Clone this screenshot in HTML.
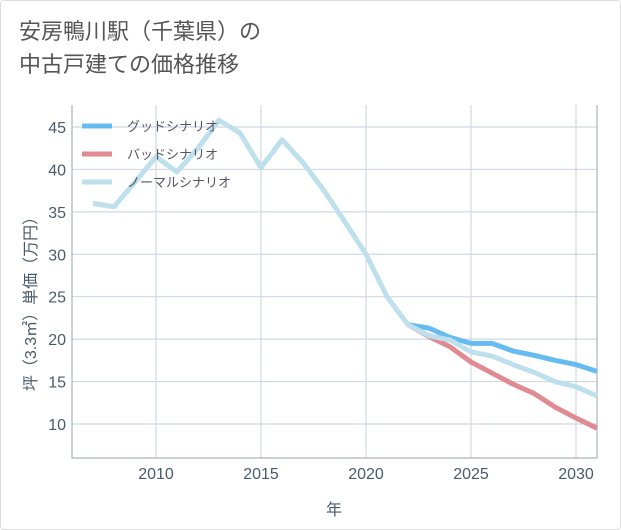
<!DOCTYPE html>
<html><head><meta charset="utf-8"><style>
html,body{margin:0;padding:0;background:#fff;}
#wrap{position:relative;width:619px;height:528px;border:1px solid #ddd;border-radius:4px;overflow:hidden;font-family:"Liberation Sans","Noto Sans CJK JP",sans-serif;}
#title{position:absolute;left:18px;top:14px;font-size:22px;line-height:33px;color:#555;}
</style></head><body>
<div id="wrap">
<div id="title">安房鴨川駅（千葉県）の<br>中古戸建ての価格推移</div>
<svg id="chart" width="621" height="530" style="position:absolute;left:-1px;top:-1px"></svg>
</div>
<script>
const years=[2007,2008,2009,2010,2011,2012,2013,2014,2015,2016,2017,2018,2019,2020,2021,2022,2023,2024,2025,2026,2027,2028,2029,2030,2031];
const normal=[36.0,35.6,38.5,41.5,39.7,42.5,45.8,44.3,40.2,43.5,40.8,37.5,33.8,30.0,25.0,21.7,20.4,19.9,18.5,18.0,17.0,16.1,15.0,14.4,13.3];
const goodYears=[2022,2023,2024,2025,2026,2027,2028,2029,2030,2031];
const good=[21.7,21.3,20.2,19.5,19.5,18.6,18.1,17.5,17.0,16.2];
const bad=[21.7,20.3,19.1,17.3,16.0,14.7,13.6,12.0,10.7,9.5];
const xTicks=[2010,2015,2020,2025,2030];
const yTicks=[10,15,20,25,30,35,40,45];
const NS='http://www.w3.org/2000/svg';
const svg=document.getElementById('chart');
const L=72,R=597,T=105,B=458;
const x=y=>156+(y-2010)*21;
const yv=v=>424-(v-10)*8.486;
function el(t,a){const e=document.createElementNS(NS,t);for(const k in a)e.setAttribute(k,a[k]);svg.appendChild(e);return e;}
yTicks.forEach(v=>{
 const g=el('line',{x1:L,x2:R,y1:yv(v),y2:yv(v),stroke:'#cfd8e2','stroke-width':1.2});
 
 
 const t=el('text',{x:L-6,y:yv(v)+6,'text-anchor':'end','font-size':16,fill:'#4a5a6a'});
 t.textContent=v;
 
 
});
xTicks.forEach(v=>{
 const g=el('line',{x1:x(v),x2:x(v),y1:T,y2:B,stroke:'#cfd8e2','stroke-width':1.2});
 
 
 const t=el('text',{x:x(v),y:B+21,'text-anchor':'middle','font-size':16,fill:'#4a5a6a'});
 t.textContent=v;
 
 
});
const ax=el('path',{d:`M${L},${T}V${B}H${R}V${T}`,fill:'none',stroke:'#a9b4bf','stroke-width':1.2});


function line(xs,vs,c,name){
 const p=el('polyline',{points:xs.map((yr,i)=>x(yr)+','+yv(vs[i])).join(' '),fill:'none',stroke:c,'stroke-width':5,'stroke-linejoin':'round'});
 
 
}
line(goodYears,bad,'#e08a92','bad-scenario-line');
line(goodYears,good,'#66bbf0','good-scenario-line');
line(years,normal,'#bde0ec','normal-scenario-line');
const leg=[['グッドシナリオ','#66bbf0'],['バッドシナリオ','#e08a92'],['ノーマルシナリオ','#bde0ec']];
leg.forEach((d,i)=>{
 const yy=126+i*28;
 const s=el('line',{x1:82,x2:112,y1:yy,y2:yy,stroke:d[1],'stroke-width':5});
 
 
 const t=el('text',{x:127,y:yy+5,'font-size':13,fill:'#556'});
 t.textContent=d[0];
 
 
});
const xt=el('text',{x:334,y:515,'text-anchor':'middle','font-size':16,fill:'#4a5a6a'});
xt.textContent='年';


const yt=el('text',{x:0,y:0,'text-anchor':'middle','font-size':16,fill:'#4a5a6a',transform:'translate(36,300) rotate(-90)'});
yt.textContent='坪（3.3㎡）単価（万円）';


</script>
</body></html>
